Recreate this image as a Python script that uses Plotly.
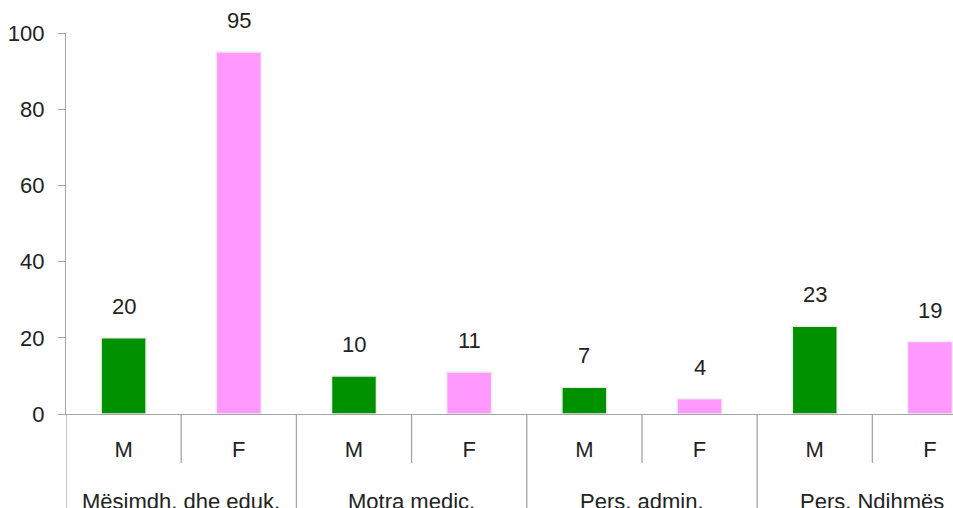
import plotly.graph_objects as go

groups = ["Mësimdh. dhe eduk.", "Motra medic.", "Pers. admin.", "Pers. Ndihmës"]
genders = ["M", "F"]
male = [20, 10, 7, 23]
female = [95, 11, 4, 19]

GREEN = "#009100"
PINK = "#ff99ff"
AXIS = "#a6a6a6"
TXT = "#222222"
FONT = "Liberation Sans, Arial, sans-serif"
FS = 22

H_PLOT = 381.0  # plot height in px (for paper offsets)
Y0 = 414  # page y of the value axis zero line

xs_m = [2 * i for i in range(len(groups))]
xs_f = [2 * i + 1 for i in range(len(groups))]

fig = go.Figure()
fig.add_trace(go.Bar(x=xs_m, y=male, width=0.39, marker=dict(color=GREEN, line=dict(color="#eeeeee", width=1.5)),
                     showlegend=False, hoverinfo="skip"))
fig.add_trace(go.Bar(x=xs_f, y=female, width=0.39, marker=dict(color=PINK, line=dict(color="#eeeeee", width=1.5)),
                     showlegend=False, hoverinfo="skip"))

annotations = []
for xv, v in list(zip(xs_m, male)) + list(zip(xs_f, female)):
    annotations.append(dict(x=xv, y=v, xref="x", yref="y", text=str(v), showarrow=False,
                            yanchor="bottom", yshift=17, font=dict(size=FS, color=TXT, family=FONT)))
for i, g in enumerate(groups):
    annotations.append(dict(x=2 * i + 0.5, y=-(501 - Y0) / H_PLOT, xref="x", yref="paper", text=g,
                            showarrow=False, yanchor="middle", font=dict(size=FS, color=TXT, family=FONT)))

shapes = []
n = len(groups) * 2
for b in range(n + 1):
    xb = b - 0.5
    if b % 2 == 0:
        y1 = -(520 - Y0) / H_PLOT
    else:
        y1 = -(463 - Y0) / H_PLOT
    shapes.append(dict(type="line", xref="x", yref="paper", x0=xb, x1=xb, y0=0, y1=y1,
                       line=dict(color=AXIS, width=1.3)))

tick_text = [genders[k % 2] for k in range(n)]

fig.update_layout(
    width=953, height=508,
    margin=dict(l=66, r=0, t=33, b=94, autoexpand=False),
    plot_bgcolor="white", paper_bgcolor="white",
    bargap=0.6,
    font=dict(family=FONT, size=FS, color=TXT),
    annotations=annotations,
    shapes=shapes,
    xaxis=dict(range=[-0.5, 7.2], tickmode="array", tickvals=list(range(n)), ticktext=tick_text,
               showline=True, linecolor=AXIS, linewidth=1.3, ticks="", showgrid=False, zeroline=False,
               automargin=False, ticklabelstandoff=15, tickfont=dict(size=FS, color=TXT, family=FONT)),
    yaxis=dict(range=[0, 100], tickvals=[0, 20, 40, 60, 80, 100], showline=True, linecolor=AXIS, linewidth=1.3,
               ticks="outside", ticklen=7, tickcolor=AXIS, showgrid=False, zeroline=False,
               automargin=False, ticklabelstandoff=9, tickfont=dict(size=FS, color=TXT, family=FONT)),
)

fig.write_html("out.html", config={"displayModeBar": False},
               post_script="document.body.style.margin='0';document.body.style.overflow='hidden';")
